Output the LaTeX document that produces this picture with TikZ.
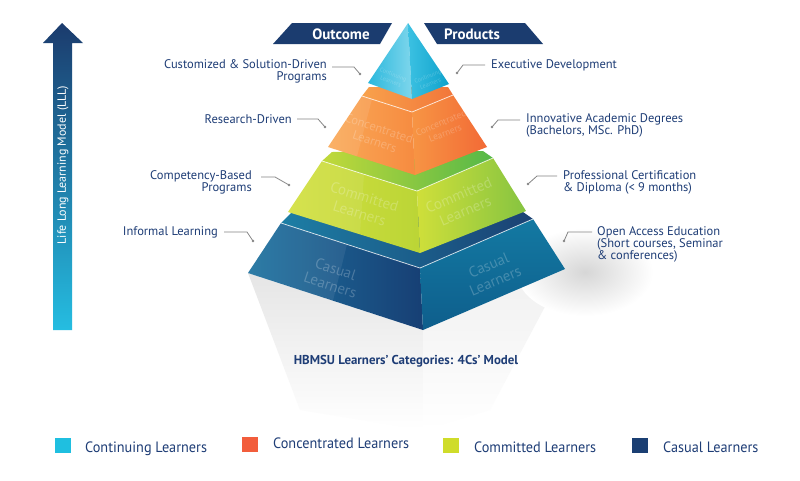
\documentclass[tikz,border=0pt]{standalone}
\usepackage{fontspec}
\setmainfont{PT Sans}
\newfontfamily\legfont[FakeStretch=0.95]{PT Sans}
\definecolor{navy}{HTML}{1B3C6F}
\definecolor{labblue}{HTML}{1E3D76}
\definecolor{conngray}{HTML}{858585}
\definecolor{arrowtop}{HTML}{1B3B6D}
\definecolor{arrowbot}{HTML}{25BDE1}
\definecolor{cyLa}{HTML}{2BB8DD}\definecolor{cyLb}{HTML}{7ED6EC}
\definecolor{cyRa}{HTML}{3BC1E2}\definecolor{cyRb}{HTML}{0FA2CC}
\definecolor{orTa}{HTML}{F8A24C}\definecolor{orTb}{HTML}{F2763A}
\definecolor{orLa}{HTML}{FAAA58}\definecolor{orLb}{HTML}{F68B40}
\definecolor{orRa}{HTML}{F79544}\definecolor{orRb}{HTML}{F26A36}
\definecolor{grTa}{HTML}{C2D93A}\definecolor{grTb}{HTML}{55B848}
\definecolor{grLa}{HTML}{D3E03F}\definecolor{grLb}{HTML}{BBD536}
\definecolor{grRa}{HTML}{CFDF3A}\definecolor{grRb}{HTML}{86C441}
\definecolor{blTa}{HTML}{1C7EA5}\definecolor{blTb}{HTML}{1B4173}
\definecolor{blLa}{HTML}{1E72A0}\definecolor{blLb}{HTML}{173F74}
\definecolor{blRa}{HTML}{1379A2}\definecolor{blRb}{HTML}{0E5E8C}
\definecolor{legCont}{HTML}{1FBFE0}
\definecolor{legConc}{HTML}{F25D3C}
\definecolor{legComm}{HTML}{CFDC2A}
\definecolor{legCas}{HTML}{1B3F73}
\tikzset{
  lab/.style={text=labblue, font=\fontsize{12.5}{12}\selectfont, inner sep=0pt},
  conn/.style={draw=conngray, line width=0.8pt},
  dotmark/.style={fill=conngray},
  facetxt/.style={text=white, text opacity=0.22, align=center, inner sep=0pt},
  bantxt/.style={text=white, font=\bfseries\fontsize{15}{15}\selectfont, inner sep=0pt},
  legsq/.style={minimum width=16pt, minimum height=15pt, inner sep=0pt, draw=none},
  legtxt/.style={text=labblue, font=\legfont\fontsize{15}{15}\selectfont, anchor=base west, inner sep=0pt},
  hilite/.style={draw=white, draw opacity=0.75, line width=0.8pt},
}
\begin{document}
\begin{tikzpicture}[x=1pt,y=-1pt]
\useasboundingbox (0,0) rectangle (800,480);
\fill[white] (0,0) rectangle (800,480);

% ---------- shadows ----------
\shade[top color=black!10, bottom color=white] (248,273) -- (423,330) -- (423,430) -- (300,410) -- cycle;
\shade[top color=black!6, bottom color=white] (423,330) -- (565,269) -- (490,410) -- (423,430) -- cycle;
\shade[inner color=black!16, outer color=white] (585,272) ellipse [x radius=68, y radius=44];

% ---------- blue tier ----------
\shade[left color=blTa, right color=blTb] (281,223) -- (291,213) -- (523,212) -- (533,219) -- (420,268) -- cycle;
\shade[left color=blLa, right color=blLb] (281,223) -- (420,268) -- (423,330) -- (248,273) -- cycle;
\shade[top color=blRa, bottom color=blRb] (420,268) -- (533,219) -- (565,269) -- (423,330) -- cycle;
\fill[white, opacity=0.07] (281,223) -- (347,244.4) -- (333,300.7) -- (248,273) -- cycle;
\draw[hilite] (281,223) -- (420,268) -- (533,219);
\node[facetxt, rotate=-18, font=\fontsize{15}{17}\selectfont] (tbl) at (333,277) {Casual\\Learners};
\node[facetxt, rotate=23, font=\fontsize{15}{17}\selectfont] (tbr) at (492,273) {Casual\\Learners};

% ---------- green tier ----------
\shade[left color=grTa, right color=grTb] (322,161) -- (332,152) -- (483,151) -- (493,158) -- (417,191) -- cycle;
\shade[left color=grLa, right color=grLb] (322,161) -- (417,191) -- (420,253) -- (288,212) -- cycle;
\shade[left color=grRa, right color=grRb] (417,191) -- (493,158) -- (526,211) -- (420,253) -- cycle;
\fill[white, opacity=0.08] (322,161) -- (364,174.3) -- (360,234.4) -- (288,212) -- cycle;
\draw[hilite] (322,161) -- (417,191) -- (493,158);
\node[facetxt, rotate=-17, font=\fontsize{15}{17}\selectfont] (tgl) at (362,205) {Committed\\Learners};
\node[facetxt, rotate=23, font=\fontsize{15}{17}\selectfont] (tgr) at (462,203) {Committed\\Learners};

% ---------- orange tier ----------
\shade[left color=orTa, right color=orTb] (362,96) -- (369,87) -- (448,87) -- (453,95) -- (412,112) -- cycle;
\shade[left color=orLa, right color=orLb] (362,96) -- (412,112) -- (415,175) -- (328,147) -- cycle;
\shade[left color=orRa, right color=orRb] (412,112) -- (453,95) -- (487,147) -- (415,175) -- cycle;
\fill[white, opacity=0.09] (362,96) -- (372,99.2) -- (357,156.3) -- (328,147) -- cycle;
\draw[hilite] (362,96) -- (412,112) -- (453,95);
\node[facetxt, rotate=-18, font=\fontsize{12.5}{14}\selectfont] (tol) at (377,135) {Concentrated\\Learners};
\node[facetxt, rotate=22, font=\fontsize{9.5}{11}\selectfont] (tor) at (443,128) {Concentrated\\Learners};

% ---------- cyan top ----------
\shade[left color=cyLa, right color=cyLb] (408,23) -- (368,83) -- (412,99) -- cycle;
\shade[left color=cyRa, right color=cyRb] (408,23) -- (412,99) -- (449,84) -- cycle;
\node[facetxt, rotate=-20, font=\fontsize{6}{7.5}\selectfont] (tcl) at (392,78) {Continuing\\Learners};
\node[facetxt, rotate=20, font=\fontsize{6}{7.5}\selectfont] (tcr) at (429,80) {Continuing\\Learners};

% ---------- banners ----------
\fill[navy] (292,23) -- (392,23) -- (380,44) -- (273,44) -- cycle;
\node[bantxt] (outc) at (341,34) {Outcome};
\fill[navy] (424,23) -- (525,23) -- (543,44) -- (437,44) -- cycle;
\node[bantxt] (prod) at (472,34) {Products};

% ---------- LLL arrow ----------
\shade[top color=arrowtop, bottom color=arrowbot] (62,23) -- (83,43) -- (72,43) -- (72,330) -- (53,330) -- (53,43) -- (43,43) -- cycle;
\node[text=white, rotate=90, font=\fontsize{12}{12}\selectfont, inner sep=0pt] (lll) at (63,165) {Life Long Learning Model (LLL)};

% ---------- left labels ----------
\node[lab, anchor=east, align=right] (l1) at (327,71) {Customized \& Solution-Driven\\Programs};
\coordinate (l1a) at (332,67); \coordinate (l1b) at (354,67); \coordinate (l1c) at (360,74);
\draw[conn] (l1a) -- (l1b) -- (l1c); \fill[dotmark] (l1c) circle[radius=1.4pt];

\node[lab, anchor=east] (l2) at (292,119) {Research-Driven};
\coordinate (l2a) at (297,119); \coordinate (l2b) at (318,119); \coordinate (l2c) at (325,127);
\draw[conn] (l2a) -- (l2b) -- (l2c); \fill[dotmark] (l2c) circle[radius=1.4pt];

\node[lab, anchor=east, align=right] (l3) at (252,182.5) {Competency-Based\\Programs};
\coordinate (l3a) at (261,177); \coordinate (l3b) at (275,177); \coordinate (l3c) at (289,185);
\draw[conn] (l3a) -- (l3b) -- (l3c); \fill[dotmark] (l3c) circle[radius=1.4pt];

\node[lab, anchor=east] (l4) at (218,232) {Informal Learning};
\coordinate (l4a) at (224,232); \coordinate (l4b) at (247,232); \coordinate (l4c) at (253,241);
\draw[conn] (l4a) -- (l4b) -- (l4c); \fill[dotmark] (l4c) circle[radius=1.4pt];

% ---------- right labels ----------
\node[lab, anchor=west] (r1) at (491,65) {Executive Development};
\coordinate (r1a) at (485,65); \coordinate (r1b) at (463,65); \coordinate (r1c) at (457,73);
\draw[conn] (r1a) -- (r1b) -- (r1c); \fill[dotmark] (r1c) circle[radius=1.4pt];

\node[lab, anchor=west, align=left] (r2) at (526,125) {Innovative Academic Degrees\\(Bachelors, MSc. PhD)};
\coordinate (r2a) at (520,120); \coordinate (r2b) at (498,120); \coordinate (r2c) at (492,127);
\draw[conn] (r2a) -- (r2b) -- (r2c); \fill[dotmark] (r2c) circle[radius=1.4pt];

\node[lab, anchor=west, align=left] (r3) at (563,182) {Professional Certification\\\& Diploma (< 9 months)};
\coordinate (r3a) at (557,176); \coordinate (r3b) at (537,176); \coordinate (r3c) at (528,184);
\draw[conn] (r3a) -- (r3b) -- (r3c); \fill[dotmark] (r3c) circle[radius=1.4pt];

\node[lab, anchor=west, align=left] (r4) at (597,244) {Open Access Education\\(Short courses, Seminar\\\& conferences)};
\coordinate (r4a) at (592,232); \coordinate (r4b) at (568,232); \coordinate (r4c) at (564,241);
\draw[conn] (r4a) -- (r4b) -- (r4c); \fill[dotmark] (r4c) circle[radius=1.4pt];

% ---------- caption ----------
\node[text=labblue, font=\bfseries\fontsize{12.9}{13}\selectfont, inner sep=0pt] (cap) at (406,361) {HBMSU Learners’ Categories: 4Cs’ Model};

% ---------- legend ----------
\node[legsq, fill=legCont] (sq1) at (63,445.5) {};
\node[legtxt] (lg1) at (85,452) {Continuing Learners};
\node[legsq, fill=legConc] (sq2) at (250,444.5) {};
\node[legtxt] (lg2) at (273,448.5) {Concentrated Learners};
\node[legsq, fill=legComm] (sq3) at (451,445.5) {};
\node[legtxt] (lg3) at (474,452) {Committed Learners};
\node[legsq, fill=legCas] (sq4) at (640,445.5) {};
\node[legtxt] (lg4) at (663,452) {Casual Learners};
\end{tikzpicture}
\end{document}
